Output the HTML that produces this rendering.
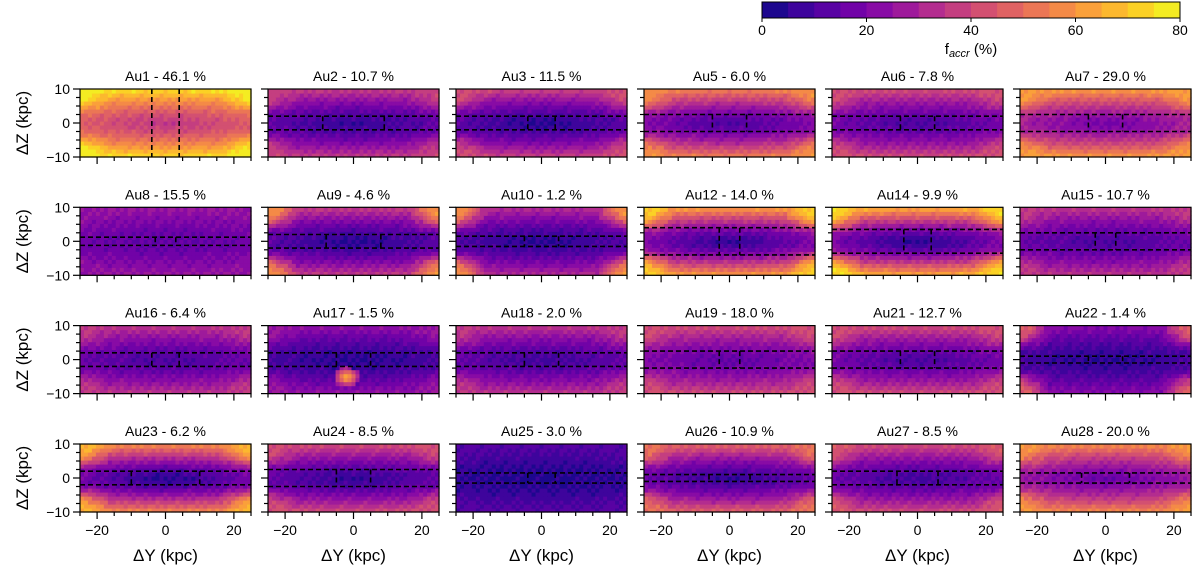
<!DOCTYPE html>
<html><head><meta charset="utf-8"><style>
html,body{margin:0;padding:0;background:#fff;}
svg{display:block;font-family:"Liberation Sans","DejaVu Sans",sans-serif;}
</style></head><body>
<svg id="fig" width="1200" height="574" viewBox="0 0 1200 574"></svg>
<script>
// ---- data ----
const names = ["Au1","Au2","Au3","Au5","Au6","Au7","Au8","Au9","Au10","Au12","Au14","Au15","Au16","Au17","Au18","Au19","Au21","Au22","Au23","Au24","Au25","Au26","Au27","Au28"];
const fracs = [46.1,10.7,11.5,6.0,7.8,29.0,15.5,4.6,1.2,14.0,9.9,10.7,6.4,1.5,2.0,18.0,12.7,1.4,6.2,8.5,3.0,10.9,8.5,20.0];
const coreVal = [36,6,4,10,10,18,14,4,4,6,4,10,10,4,8,14,10,4,4,6,3,6,8,16];
const edgeVal = [74,36,38,54,40,60,26,36,32,60,64,34,34,24,34,40,40,22,56,40,12,46,40,56];
const cornerVal = [78,38,42,58,42,62,24,58,58,72,74,36,36,26,36,42,42,46,66,42,12,52,44,60];
const boxHalfZ = [0,2,2,2.5,2,2.5,1.2,2,1.5,4,3.5,2.5,2,2,2,2.5,2.5,1,2,2.5,1.5,1,2,1.5];
const boxHalfY = [4,9,4,5,5,5,3,8,5,3,4,3,4,5,5,3,5,5,10,5,4,6,6,7];
const xTicks = [-20,0,20];
const yTicks = [-10,0,10];
const cbTicks = [0,20,40,60,80];

const plasma = ["#0d0887","#41049d","#6a00a8","#8f0da4","#b12a90","#cc4778","#e16462","#f2844b","#fca636","#fcce25","#f0f921"];
function hex(c){return [1,3,5].map(i=>parseInt(c.substr(i,2),16));}
function cmap(t){t=Math.max(0,Math.min(1,t));const s=t*10,i=Math.min(9,Math.floor(s)),f=s-i;const a=hex(plasma[i]),b=hex(plasma[i+1]);return "rgb("+a.map((v,k)=>Math.round(v+(b[k]-v)*f)).join(",")+")";}
function colorFor(v){const bin=Math.min(15,Math.max(0,Math.floor(v/5)));return cmap((bin+0.5)/16);}

const NS="http://www.w3.org/2000/svg";
const svg=document.getElementById("fig");
function el(tag,attrs,parent){const e=document.createElementNS(NS,tag);for(const k in attrs)e.setAttribute(k,attrs[k]);(parent||svg).appendChild(e);return e;}

const colX=[80,268,456,644,832,1020], rowY=[89,207.3,325.6,444], PW=171, PH=68;

names.forEach((nm,i)=>{
  const c=i%6,r=Math.floor(i/6),x0=colX[c],y0=rowY[r];
  const sx=v=>x0+(v+25)/50*PW, sy=v=>y0+(10-v)/20*PH;
  const g=el("g",{});
  
  
  const nx=43,nz=17,dx=50/nx,dz=20/nz;
  for(let a=0;a<nx;a++)for(let b=0;b<nz;b++){
    const yv=-25+(a+0.5)*dx, zv=-10+(b+0.5)*dz;
    const ry=Math.abs(yv)/25, rz=Math.abs(zv)/10;
    let rr=Math.min(1,Math.sqrt(rz*rz*1.05+ry*ry*0.15));
    rr=Math.pow(rr,1.35);
    let v=coreVal[i]+(edgeVal[i]-coreVal[i])*rr;
    const cw=Math.max(0,(ry-0.65)/0.35)*Math.max(0,(rz-0.3)/0.7);
    v+= (cornerVal[i]-v)*Math.min(1,cw*1.6);
    v+= ((a*7+b*13)%5-2)*1.2;
    if(nm==="Au17"){const d=Math.hypot((yv+2)/2.5,(zv+5)/2);if(d<1.5)v=Math.max(v,70-d*30);}
    const rc=el("rect",{x:sx(yv-dx/2).toFixed(2),y:sy(zv+dz/2).toFixed(2),width:(dx/50*PW+0.6).toFixed(2),height:(dz/20*PH+0.6).toFixed(2),fill:colorFor(v)},g);
    
    
  }
  const ds={stroke:"#000","stroke-width":1.6,"stroke-dasharray":"5,3",fill:"none"};
  if(boxHalfZ[i]===0){
    [-boxHalfY[i],boxHalfY[i]].forEach(v=>{const l=el("line",Object.assign({x1:sx(v),x2:sx(v),y1:y0,y2:y0+PH},ds),g);});
  } else {
    [-boxHalfZ[i],boxHalfZ[i]].forEach(v=>{const l=el("line",Object.assign({x1:x0,x2:x0+PW,y1:sy(v),y2:sy(v)},ds),g);});
    [-boxHalfY[i],boxHalfY[i]].forEach(v=>{const l=el("line",Object.assign({x1:sx(v),x2:sx(v),y1:sy(boxHalfZ[i]),y2:sy(-boxHalfZ[i])},ds),g);});
  }
  const fr=el("rect",{x:x0,y:y0,width:PW,height:PH,fill:"none",stroke:"#000","stroke-width":1.2},g);
  
  for(let v=-25;v<=25;v+=5){const maj=v%20===0;el("line",{x1:sx(v),x2:sx(v),y1:y0+PH,y2:y0+PH+(maj?7:4),stroke:"#000","stroke-width":1.2},g);}
  for(let v=-10;v<=10;v+=2.5){const maj=v%10===0;el("line",{x1:x0,x2:x0-(maj?7:4),y1:sy(v),y2:sy(v),stroke:"#000","stroke-width":1.2},g);}
  const t=el("text",{x:x0+PW/2,y:y0-8,"text-anchor":"middle","font-size":14},g);t.textContent=nm+" - "+fracs[i].toFixed(1)+" %";
  
  if(r===3){xTicks.forEach(v=>{const tt=el("text",{x:sx(v),y:y0+PH+23,"text-anchor":"middle","font-size":14},g);tt.textContent=(v<0?"\u2212":"")+Math.abs(v);});
    const xl=el("text",{x:x0+PW/2,y:y0+PH+49,"text-anchor":"middle","font-size":17},g);xl.textContent="\u0394Y (kpc)";}
  if(c===0){yTicks.forEach(v=>{const tt=el("text",{x:x0-10,y:sy(v)+5,"text-anchor":"end","font-size":14},g);tt.textContent=(v<0?"\u2212":"")+Math.abs(v);});
    const yl=el("text",{x:0,y:0,"text-anchor":"middle","font-size":17,transform:"translate(28,"+(y0+PH/2)+") rotate(-90)"},g);yl.textContent="\u0394Z (kpc)";}
});

// colorbar
const cb=el("g",{});


const cbx0=762,cbx1=1180,cby=2,cbh=16;
for(let k=0;k<16;k++){el("rect",{x:cbx0+k*(cbx1-cbx0)/16,y:cby,width:(cbx1-cbx0)/16+0.5,height:cbh,fill:cmap((k+0.5)/16)},cb);}
el("rect",{x:cbx0,y:cby,width:cbx1-cbx0,height:cbh,fill:"none",stroke:"#000","stroke-width":1},cb);
cbTicks.forEach(v=>{const x=cbx0+v/80*(cbx1-cbx0);el("line",{x1:x,x2:x,y1:cby+cbh,y2:cby+cbh+4,stroke:"#000"},cb);const t=el("text",{x:x,y:35,"text-anchor":"middle","font-size":14},cb);t.textContent=v;});
const cl=el("text",{x:(cbx0+cbx1)/2,y:54,"text-anchor":"middle","font-size":15},cb);

cl.innerHTML='f<tspan font-size="11" dy="3" font-style="italic">accr</tspan><tspan dy="-3"> (%)</tspan>';
</script>
</body></html>
